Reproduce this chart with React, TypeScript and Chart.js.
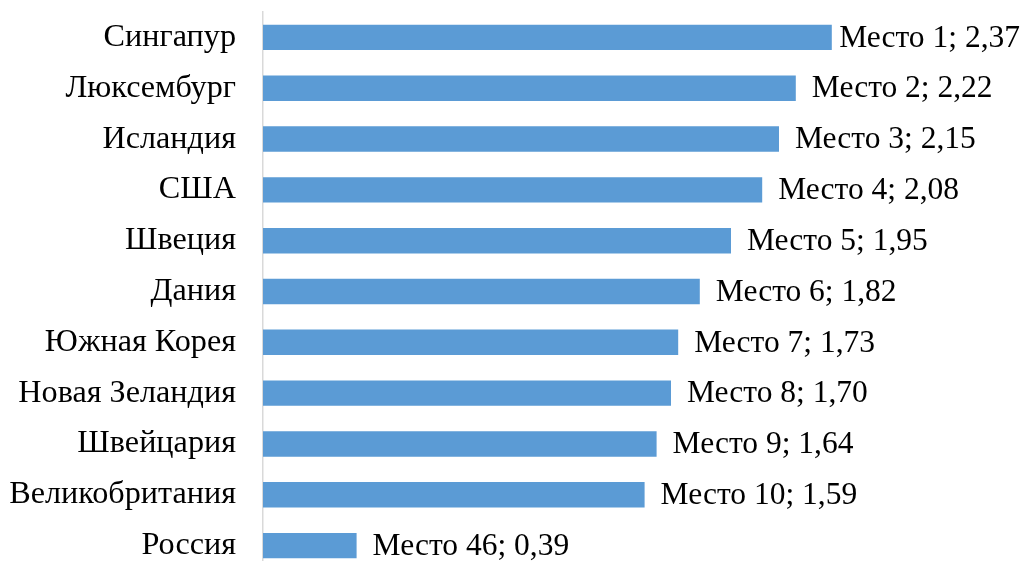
import React, { useEffect, useRef } from "react";
import { Chart, registerables } from "chart.js";

Chart.register(...registerables);

const countries = [
  "Сингапур",
  "Люксембург",
  "Исландия",
  "США",
  "Швеция",
  "Дания",
  "Южная Корея",
  "Новая Зеландия",
  "Швейцария",
  "Великобритания",
  "Россия",
];
const ranks = [1, 2, 3, 4, 5, 6, 7, 8, 9, 10, 46];
const values = [2.37, 2.22, 2.15, 2.08, 1.95, 1.82, 1.73, 1.7, 1.64, 1.59, 0.39];

const FONT = "'Liberation Serif', 'Times New Roman', serif";
const LABEL_FONT_SIZE = 31.5;
const TICK_FONT_SIZE = 32.2;

const labelPlugin = {
  id: "barLabels",
  afterDatasetsDraw(chart: any) {
    const ctx = chart.ctx;
    const meta = chart.getDatasetMeta(0);
    ctx.save();
    ctx.font = `${LABEL_FONT_SIZE}px ${FONT}`;
    ctx.fillStyle = "#000000";
    ctx.textBaseline = "middle";
    ctx.textAlign = "left";
    meta.data.forEach((bar: any, i: number) => {
      const text = `Место ${ranks[i]}; ${values[i].toFixed(2).replace(".", ",")}`;
      const w = ctx.measureText(text).width;
      let x = bar.x + 16;
      const maxRight = chart.width - 6;
      if (x + w > maxRight) x = maxRight - w;
      ctx.fillText(text, x, bar.y + 1);
    });
    ctx.restore();
  },
};

export default function App() {
  const canvasRef = useRef<HTMLCanvasElement | null>(null);

  useEffect(() => {
    if (!canvasRef.current) return;
    const chart = new Chart(canvasRef.current, {
      type: "bar",
      data: {
        labels: countries,
        datasets: [
          {
            data: values,
            backgroundColor: "#5B9BD5",
            borderWidth: 0,
            barPercentage: 0.5,
            categoryPercentage: 1,
          },
        ],
      },
      options: {
        indexAxis: "y",
        animation: false,
        responsive: true,
        maintainAspectRatio: false,
        layout: { padding: { top: 12, right: 43, bottom: 0, left: 0 } },
        plugins: {
          legend: { display: false },
          tooltip: { enabled: false },
        },
        scales: {
          x: {
            display: false,
            min: 0,
            max: 3,
          },
          y: {
            afterFit: (scale: any) => {
              scale.width = 263;
              scale.paddingTop = 0;
              scale.paddingBottom = 0;
            },
            grid: { display: false, drawTicks: false },
            border: { display: true, color: "#D9D9D9", width: 1.5 },
            ticks: {
              color: "#000000",
              padding: 27,
              font: { family: FONT, size: TICK_FONT_SIZE },
            },
          },
        },
      },
      plugins: [labelPlugin],
    });
    return () => chart.destroy();
  }, []);

  return (
    <div
      style={{
        position: "fixed",
        left: 0,
        top: 0,
        width: 1026,
        height: 561,
        overflow: "hidden",
        background: "#ffffff",
      }}
    >
      <div style={{ position: "relative", width: 1026, height: 571 }}>
        <canvas ref={canvasRef} />
      </div>
    </div>
  );
}
